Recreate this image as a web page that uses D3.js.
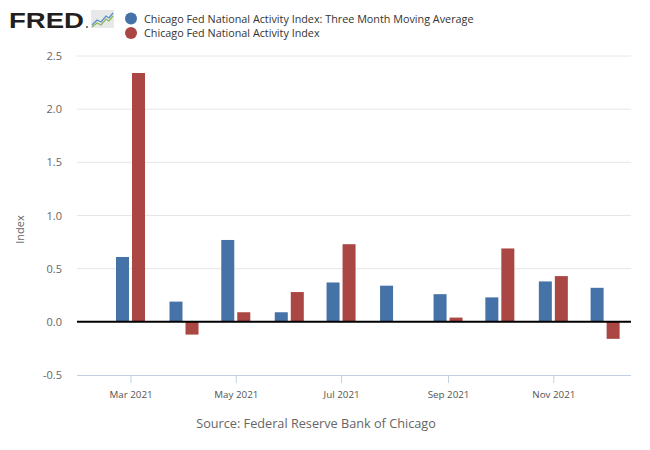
<!DOCTYPE html>
<html>
<head>
<meta charset="utf-8">
<script src="https://cdn.jsdelivr.net/npm/d3@7"></script>
<style>
  body { margin: 0; background: #fff; }
  svg { font-family: "Open Sans", "Noto Sans", sans-serif; }
</style>
</head>
<body>
<div id="chart"></div>
<script>
// months (first day of month) and the two series
const months = ['2021-03-01', '2021-04-01', '2021-05-01', '2021-06-01', '2021-07-01',
  '2021-08-01', '2021-09-01', '2021-10-01', '2021-11-01', '2021-12-01'];
const movingAvg = [0.61, 0.19, 0.77, 0.09, 0.37, 0.34, 0.26, 0.23, 0.38, 0.32];
const activity = [2.34, -0.12, 0.09, 0.28, 0.73, 0.00, 0.04, 0.69, 0.43, -0.16];
const yTicks = [-0.5, 0.0, 0.5, 1.0, 1.5, 2.0, 2.5];
const xTickMonths = ['2021-03-01', '2021-05-01', '2021-07-01', '2021-09-01', '2021-11-01'];
const seriesNames = ['Chicago Fed National Activity Index: Three Month Moving Average',
  'Chicago Fed National Activity Index'];
const seriesColors = ['#4572A7', '#AA4643'];

const WIDTH = 650, HEIGHT = 450;
const plot = {left: 77, right: 631, top: 56, bottom: 375};

const parse = d3.timeParse('%Y-%m-%d');
const data = months.map((m, i) => ({date: parse(m), ma: movingAvg[i], v: activity[i]}));

const svg = d3.select('#chart').append('svg')
  .attr('width', WIDTH)
  .attr('height', HEIGHT);

const x = d3.scaleTime()
  .domain([parse('2021-01-29'), parse('2021-12-16')])
  .range([plot.left, plot.right]);

const y = d3.scaleLinear()
  .domain([-0.5, 2.5])
  .range([plot.bottom, plot.top]);

// gridlines
svg.append('g')
  .selectAll('line')
  .data(yTicks.filter(d => d !== -0.5 && d !== 0))
  .join('line')
    .attr('x1', plot.left)
    .attr('x2', plot.right)
    .attr('y1', d => y(d))
    .attr('y2', d => y(d))
    .attr('stroke', '#e6e6e6')
    .attr('stroke-width', 1);

// y tick labels (plain hyphen for negatives, like the original)
svg.append('g')
  .selectAll('text')
  .data(yTicks)
  .join('text')
    .attr('x', 62)
    .attr('y', d => y(d) + 4)
    .attr('text-anchor', 'end')
    .attr('font-size', 11)
    .attr('fill', '#666')
    .text(d => d.toFixed(1));

svg.append('text')
  .attr('transform', `translate(24, ${(plot.top + plot.bottom) / 2 + 14}) rotate(-90)`)
  .attr('text-anchor', 'middle')
  .attr('font-size', 11)
  .attr('fill', '#666')
  .text('Index');

// bottom axis
const xAxis = svg.append('g')
  .attr('transform', `translate(0, ${plot.bottom})`)
  .call(d3.axisBottom(x)
    .tickValues(xTickMonths.map(parse))
    .tickFormat(d3.timeFormat('%b %Y'))
    .tickSize(8)
    .tickPadding(8));
xAxis.select('.domain').remove();
xAxis.selectAll('.tick line').attr('stroke', '#C0D0E0');
xAxis.selectAll('.tick text')
  .attr('font-family', '"Open Sans", "Noto Sans", sans-serif')
  .attr('font-size', 9.8)
  .attr('fill', '#555');
svg.append('line')
  .attr('x1', plot.left).attr('x2', plot.right)
  .attr('y1', plot.bottom + 0.5).attr('y2', plot.bottom + 0.5)
  .attr('stroke', '#C0D0E0');

// bars
const barW = 13, gap = 3;
svg.append('g')
  .selectAll('rect')
  .data(data)
  .join('rect')
    .attr('x', d => x(d.date) - barW - gap / 2)
    .attr('y', d => y(Math.max(0, d.ma)))
    .attr('width', barW)
    .attr('height', d => Math.abs(y(d.ma) - y(0)))
    .attr('fill', seriesColors[0]);

svg.append('g')
  .selectAll('rect')
  .data(data)
  .join('rect')
    .attr('x', d => x(d.date) + gap / 2)
    .attr('y', d => y(Math.max(0, d.v)))
    .attr('width', barW)
    .attr('height', d => Math.abs(y(d.v) - y(0)))
    .attr('fill', seriesColors[1]);

// zero line
svg.append('line')
  .attr('x1', plot.left).attr('x2', plot.right)
  .attr('y1', y(0)).attr('y2', y(0))
  .attr('stroke', '#000')
  .attr('stroke-width', 2);

// FRED logo
svg.append('text')
  .attr('x', 9)
  .attr('y', 28)
  .attr('font-family', '"Liberation Sans", Arial, sans-serif')
  .attr('font-weight', 'bold')
  .attr('font-size', 22)
  .attr('textLength', 75)
  .attr('lengthAdjust', 'spacingAndGlyphs')
  .attr('fill', '#231f20')
  .text('FRED');
svg.append('circle').attr('cx', 87).attr('cy', 27).attr('r', 1).attr('fill', '#555');
const icon = svg.append('g').attr('transform', 'translate(91, 10)');
icon.append('rect').attr('width', 23).attr('height', 18).attr('fill', '#e8e8e8');
icon.append('path')
  .attr('d', 'M1,15 L6,10 L10,12 L15,6 L18,8 L22,3')
  .attr('fill', 'none').attr('stroke', '#5a8fc8').attr('stroke-width', 1.3);
icon.append('path')
  .attr('d', 'M1,17 L6,13 L10,15 L15,9 L18,11 L22,6')
  .attr('fill', 'none').attr('stroke', '#8dbb5a').attr('stroke-width', 1.3);

// legend
const legend = svg.append('g')
  .selectAll('g')
  .data(seriesNames)
  .join('g')
    .attr('transform', (d, i) => `translate(131, ${18.5 + i * 14.5})`);
legend.append('circle')
  .attr('r', 6)
  .attr('fill', (d, i) => seriesColors[i]);
legend.append('text')
  .attr('x', 13)
  .attr('y', 4)
  .attr('font-size', 10.8)
  .attr('fill', '#333')
  .text(d => d);

// source
svg.append('text')
  .attr('x', 316)
  .attr('y', 428)
  .attr('text-anchor', 'middle')
  .attr('font-size', 12.7)
  .attr('fill', '#666')
  .text('Source: Federal Reserve Bank of Chicago');
</script>
</body>
</html>
